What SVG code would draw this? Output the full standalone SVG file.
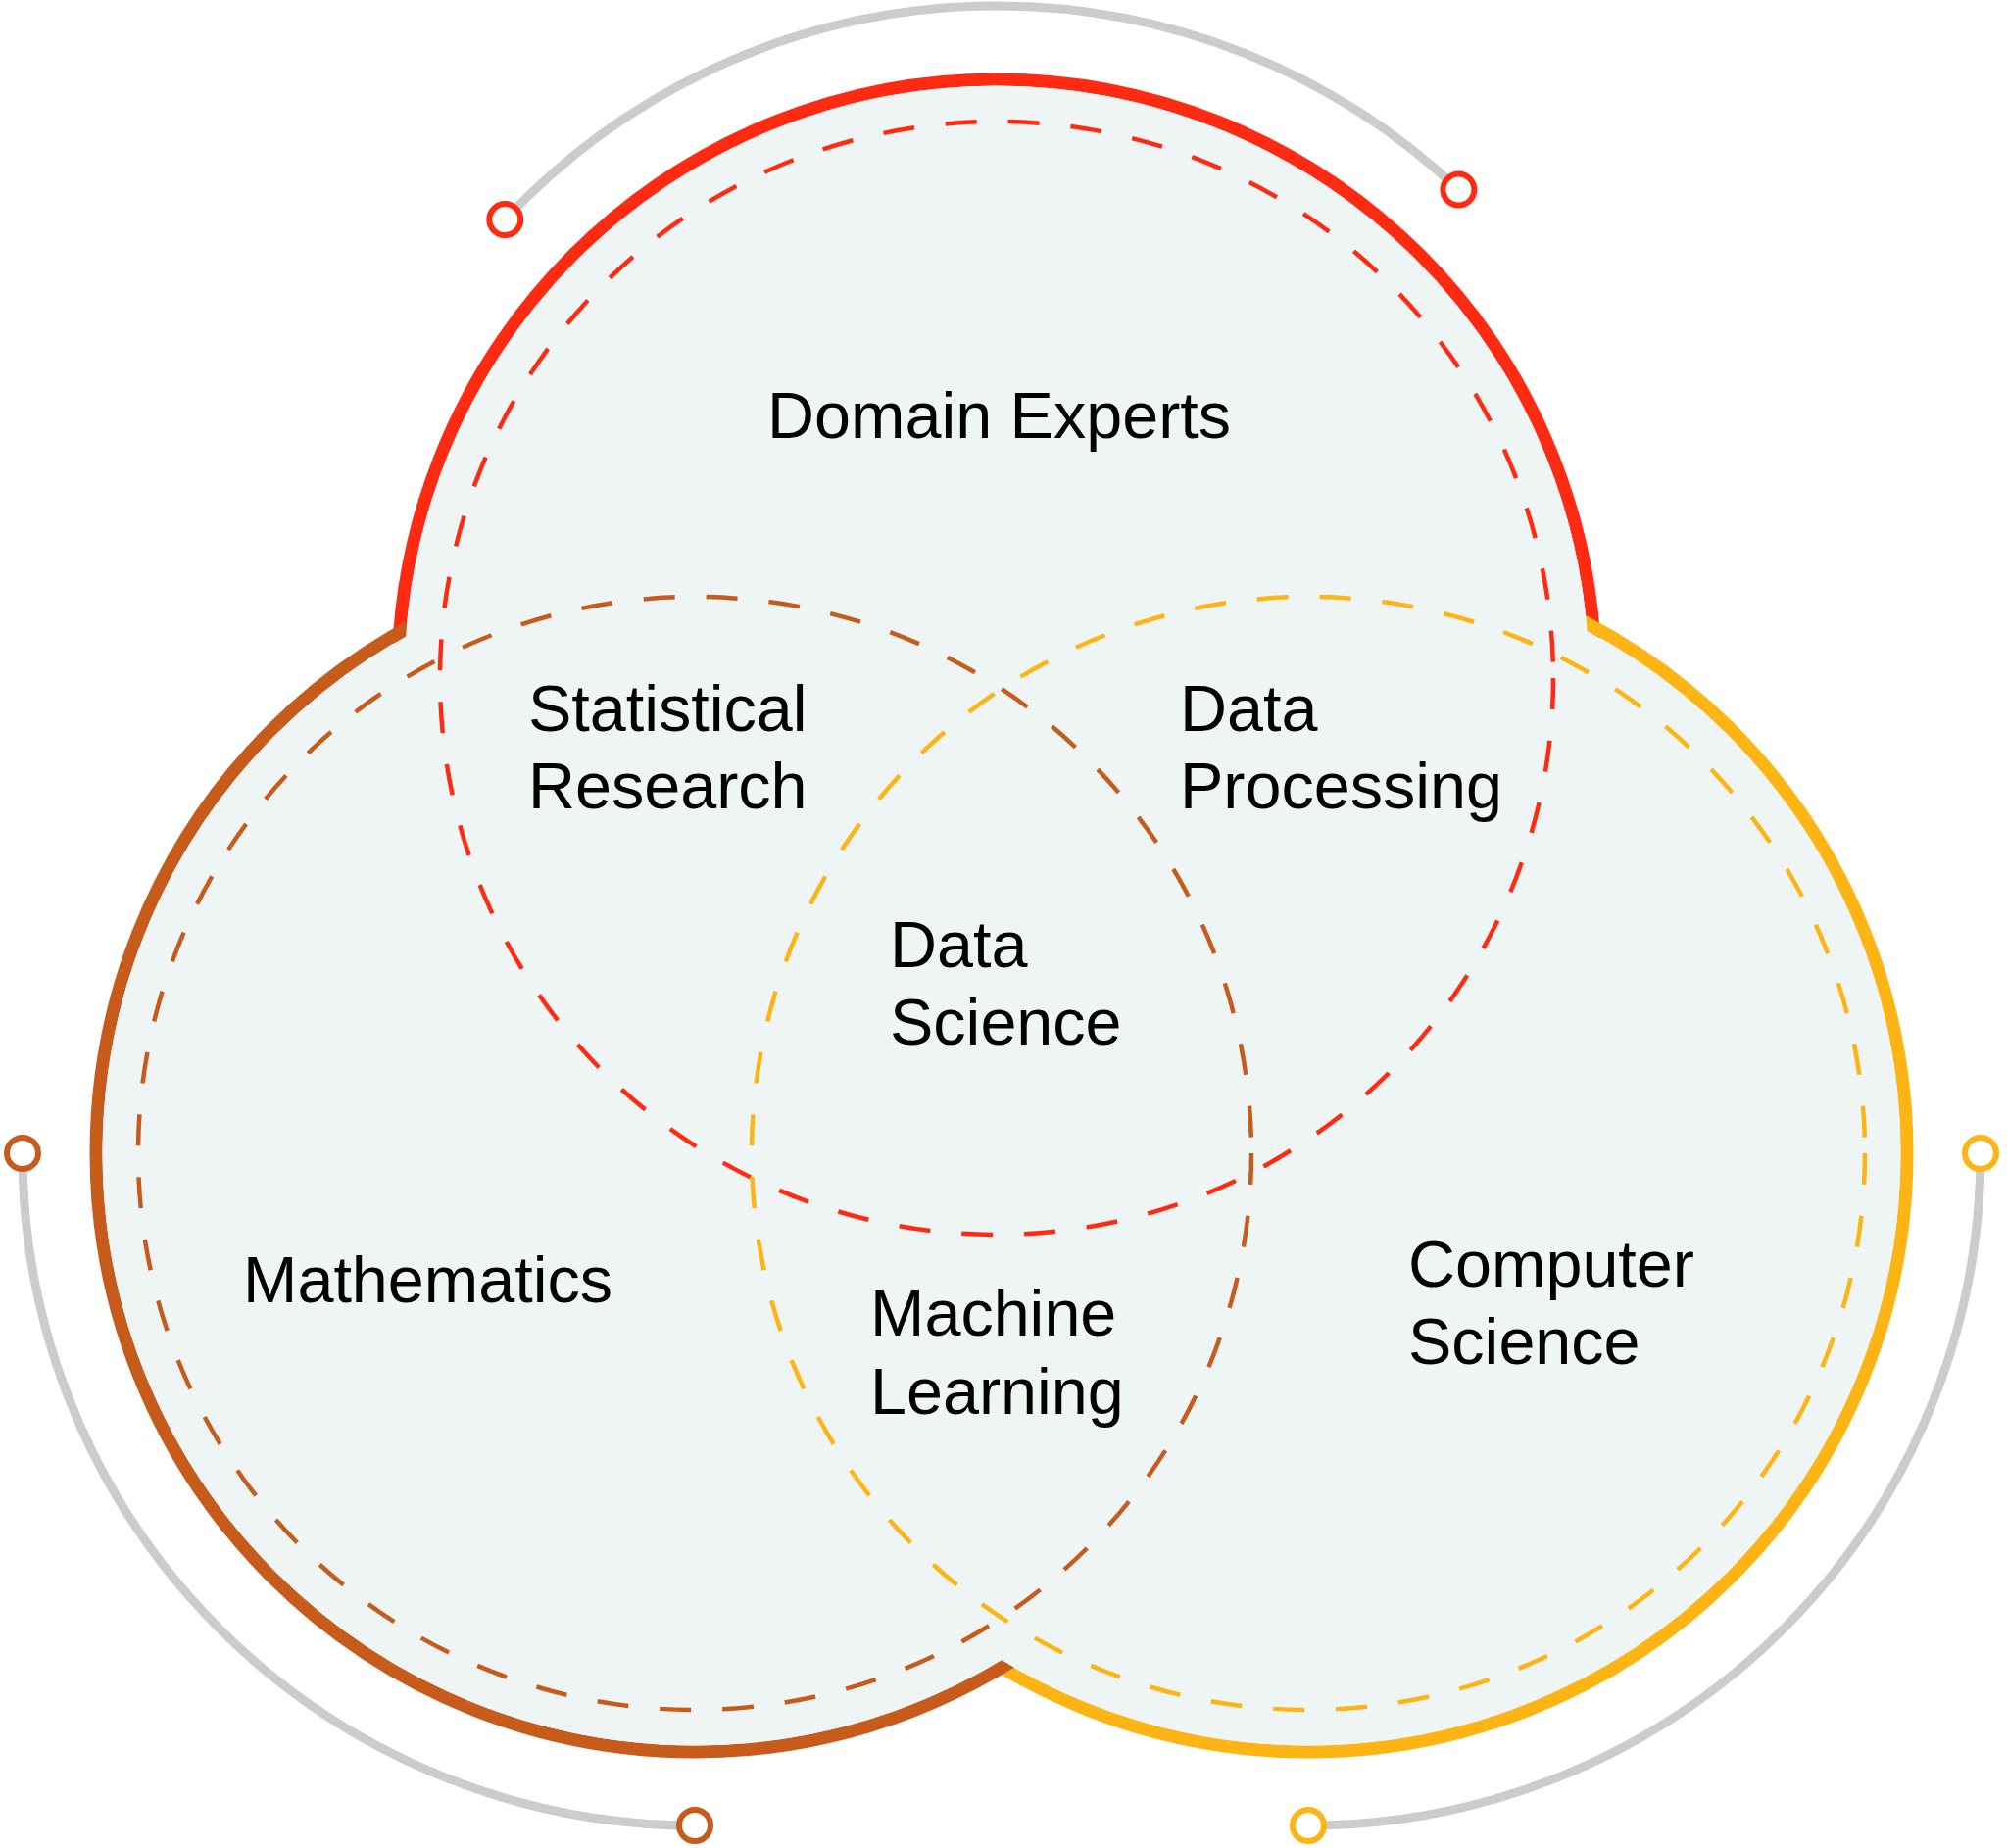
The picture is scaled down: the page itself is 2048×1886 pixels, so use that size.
<svg xmlns="http://www.w3.org/2000/svg" width="2048" height="1886" viewBox="0 0 2048 1886">
  <style>
    .outer { fill: none; stroke-width: 13; }
    .fill { fill: #eff5f5; stroke: none; }
    .dash { fill: none; stroke-width: 4.5; stroke-dasharray: 32 32; }
    .orbit { fill: none; stroke: #cccccc; stroke-width: 9; }
    .ring { fill: #ffffff; stroke-width: 6; }
    .label { font-family: "Liberation Sans", Arial, sans-serif; font-size: 66.5px; fill: #000000; }
    .red { stroke: #ff2a12; }
    .brown { stroke: #c65b1c; }
    .yellow { stroke: #fdb515; }
  </style>
  <rect width="2048" height="1886" fill="#ffffff"/>

  <g id="connectors">
    <path class="orbit" d="M 515.3 224.1 A 686 686 0 0 1 1488.4 193.6"/>
    <path class="orbit" d="M 23 1177 A 686 686 0 0 0 709 1863"/>
    <path class="orbit" d="M 1335 1863 A 686 686 0 0 0 2021 1177"/>
  </g>

  <g id="venn-outline">
    <circle class="outer red" cx="1017" cy="692" r="611"/>
    <circle class="outer yellow" cx="1335" cy="1177" r="611"/>
    <circle class="outer brown" cx="709" cy="1177" r="611"/>
    <circle class="fill" cx="1017" cy="692" r="604.5"/>
    <circle class="fill" cx="709" cy="1177" r="604.5"/>
    <circle class="fill" cx="1335" cy="1177" r="604.5"/>
  </g>

  <g id="node-domain">
    <circle class="dash red" cx="1017" cy="692" r="568"/>
    <text class="label" x="783" y="447">Domain Experts</text>
  </g>
  <g id="node-mathematics">
    <circle class="dash brown" cx="709" cy="1177" r="568"/>
    <text class="label" x="248" y="1329">Mathematics</text>
  </g>
  <g id="node-cs">
    <circle class="dash yellow" cx="1335" cy="1177" r="568"/>
    <text class="label" x="1437" y="1313">Computer</text>
    <text class="label" x="1437" y="1392">Science</text>
  </g>
  <g id="node-stat">
    <text class="label" x="539" y="746">Statistical</text>
    <text class="label" x="539" y="825">Research</text>
  </g>
  <g id="node-dp">
    <text class="label" x="1204" y="746">Data</text>
    <text class="label" x="1204" y="825">Processing</text>
  </g>
  <g id="node-ds">
    <text class="label" x="908" y="987">Data</text>
    <text class="label" x="908" y="1066">Science</text>
  </g>
  <g id="node-ml">
    <text class="label" x="888" y="1363">Machine</text>
    <text class="label" x="888" y="1443">Learning</text>
  </g>

  <g id="rings">
    <circle class="ring red" cx="515.3" cy="224.1" r="16"/>
    <circle class="ring red" cx="1488.4" cy="193.6" r="16"/>
    <circle class="ring brown" cx="23" cy="1177" r="16"/>
    <circle class="ring brown" cx="709" cy="1863" r="16"/>
    <circle class="ring yellow" cx="1335" cy="1863" r="16"/>
    <circle class="ring yellow" cx="2021" cy="1177" r="16"/>
  </g>
</svg>
